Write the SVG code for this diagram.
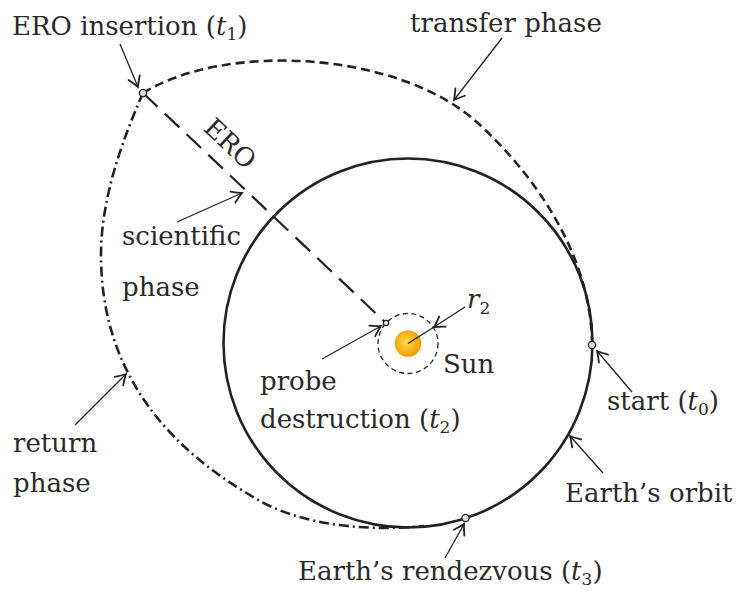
<svg xmlns="http://www.w3.org/2000/svg" width="755" height="599" viewBox="0 0 755 599">
<style>
text{font-family:"DejaVu Serif","Liberation Serif",serif;font-size:26px;fill:#2a2a2a}
.it{font-style:italic}
.sub{font-size:17px}
.orbit{fill:none;stroke:#222;stroke-width:2.6}
.transfer{fill:none;stroke:#222;stroke-width:2.6;stroke-dasharray:9 5}
.ret{fill:none;stroke:#222;stroke-width:2.6;stroke-dasharray:10 4 2 4}
.ero{fill:none;stroke:#222;stroke-width:2.2;stroke-dasharray:20 10}
.arr{fill:none;stroke:#222;stroke-width:1.3;marker-end:url(#ah)}
.thin{fill:none;stroke:#222;stroke-width:1.3}
.pt{fill:#ddd;stroke:#222;stroke-width:1.3}
</style>
<defs>
<marker id="ah" viewBox="-12 -8 14 16" refX="0" refY="0" markerWidth="14" markerHeight="16" markerUnits="userSpaceOnUse" orient="auto">
<path d="M-10,-6 Q-4,-2 0,0 Q-4,2 -10,6" fill="none" stroke="#222" stroke-width="1.8" stroke-linecap="round"/>
</marker>
<radialGradient id="sunG" cx="0.45" cy="0.45" r="0.6">
<stop offset="0" stop-color="#FFD84A"/>
<stop offset="1" stop-color="#F09A00"/>
</radialGradient>
</defs>

<g id="earth-orbit"><circle class="orbit" cx="408" cy="343" r="184.5"/></g>
<g id="transfer-phase"><path class="transfer" d="M143,93 C225,42 400,50 480,125 C550,190 592,270 592,345"/></g>
<g id="return-phase"><path class="ret" d="M143,93 C121,143 101,200 101,255 C101,370 165,445 250,495 C300,528 374,531 424,526"/></g>
<g id="ero-line"><path class="ero" d="M143,93 L386,323"/></g>
<g id="sun">
<circle cx="408" cy="343.5" r="30" fill="none" stroke="#222" stroke-width="1.3" stroke-dasharray="5 3.5"/>
<circle cx="408" cy="343.5" r="13.3" fill="url(#sunG)"/>
</g>

<g id="connectors">
<path class="arr" d="M120,44 L138,87"/>
<path class="arr" d="M502,38 L454,100"/>
<path class="arr" d="M177,222 L242,193"/>
<path class="arr" d="M75,425 L126,374"/>
<path class="arr" d="M632,392 L597,351"/>
<path class="arr" d="M603,473 L570,436"/>
<path class="arr" d="M445,558 L464,524"/>
<path class="arr" d="M322,359 L381,326"/>
<path class="arr" d="M465,307 L434,327"/>
<path class="thin" d="M434,327 L408,343.5"/>
</g>

<g id="points">
<circle id="pt-insertion" class="pt" cx="143" cy="93" r="3.6"/>
<circle id="pt-start" class="pt" cx="592" cy="345" r="3.6"/>
<circle id="pt-rendezvous" class="pt" cx="465.5" cy="518" r="3.6"/>
<circle id="pt-destruction" cx="386" cy="323" r="2.6" fill="#fff" stroke="#222" stroke-width="1.3"/>
</g>

<g id="labels">
<text x="12" y="35">ERO insertion (<tspan class="it">t</tspan><tspan class="sub" dy="5">1</tspan><tspan dy="-5">)</tspan></text>
<text x="410" y="32">transfer phase</text>
<text transform="translate(224,150) rotate(43.4)" text-anchor="middle" font-size="28">ERO</text>
<text x="122" y="245">scientific</text>
<text x="122" y="296">phase</text>
<text x="260" y="390">probe</text>
<text x="260" y="428">destruction (<tspan class="it">t</tspan><tspan class="sub" dy="5">2</tspan><tspan dy="-5">)</tspan></text>
<text x="443" y="373">Sun</text>
<text x="467" y="308"><tspan class="it">r</tspan><tspan class="sub" dy="6">2</tspan></text>
<text x="607" y="410">start (<tspan class="it">t</tspan><tspan class="sub" dy="5">0</tspan><tspan dy="-5">)</tspan></text>
<text x="565" y="502">Earth’s orbit</text>
<text x="13" y="452">return</text>
<text x="13" y="492">phase</text>
<text x="298" y="580">Earth’s rendezvous (<tspan class="it">t</tspan><tspan class="sub" dy="5">3</tspan><tspan dy="-5">)</tspan></text>
</g>
</svg>
